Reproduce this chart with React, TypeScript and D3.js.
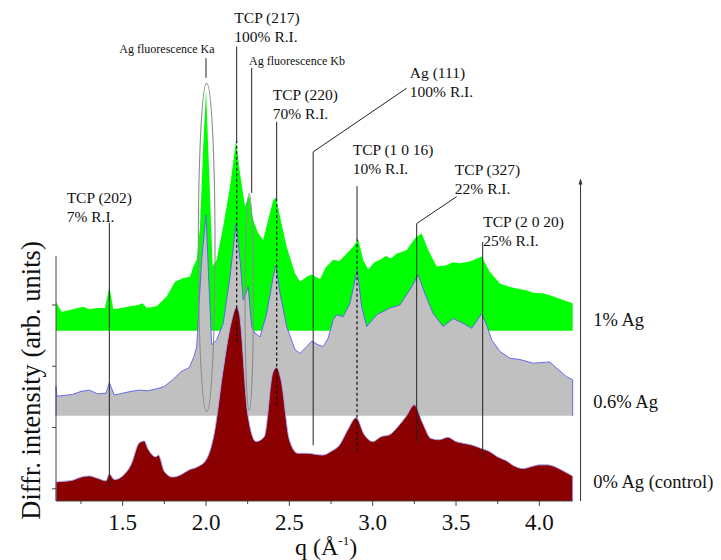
import { useEffect, useRef } from "react";
import * as d3 from "d3";

// q (1/Å) vs diffracted intensity (arb. units, stacking offset included)
const ag1pct: [number, number][] = [
    [1.100, 3.05], [1.134, 2.89], [1.184, 2.92], [1.230, 2.95], [1.264, 2.97], [1.300, 2.93],
    [1.344, 2.95], [1.394, 2.95], [1.420, 3.30], [1.444, 2.93], [1.494, 2.95], [1.544, 2.98],
    [1.594, 3.00], [1.620, 3.03], [1.644, 2.95], [1.704, 2.98], [1.764, 3.14], [1.814, 3.38],
    [1.864, 3.44], [1.904, 3.46], [1.924, 3.63], [1.944, 3.74], [1.964, 4.28], [1.984, 5.64],
    [2.000, 6.51], [2.020, 5.10], [2.040, 3.63], [2.064, 3.74], [2.103, 4.28], [2.144, 4.93],
    [2.180, 5.69], [2.204, 5.15], [2.234, 4.61], [2.259, 4.80], [2.283, 4.39], [2.313, 4.17],
    [2.343, 4.06], [2.373, 4.39], [2.403, 4.71], [2.420, 4.76], [2.444, 4.44], [2.484, 3.95],
    [2.534, 3.52], [2.564, 3.38], [2.604, 3.46], [2.634, 3.50], [2.684, 3.42], [2.720, 3.62],
    [2.763, 3.74], [2.800, 3.72], [2.823, 3.78], [2.883, 3.95], [2.913, 4.07], [2.943, 3.74],
    [2.973, 3.58], [3.010, 3.70], [3.044, 3.74], [3.080, 3.80], [3.110, 3.76], [3.144, 3.84],
    [3.170, 3.86], [3.204, 3.90], [3.254, 4.09], [3.294, 4.17], [3.333, 3.90], [3.384, 3.63],
    [3.444, 3.65], [3.480, 3.70], [3.523, 3.68], [3.583, 3.71], [3.654, 3.79], [3.703, 3.54],
    [3.764, 3.35], [3.820, 3.30], [3.864, 3.27], [3.920, 3.24], [3.963, 3.20], [4.020, 3.19],
    [4.063, 3.16], [4.143, 3.08], [4.200, 3.03],
];

const ag06pct: [number, number][] = [
    [1.100, 1.67], [1.105, 1.51], [1.200, 1.54], [1.250, 1.59], [1.300, 1.61], [1.350, 1.55],
    [1.400, 1.56], [1.420, 1.73], [1.450, 1.53], [1.500, 1.56], [1.550, 1.59], [1.600, 1.61],
    [1.650, 1.60], [1.700, 1.63], [1.750, 1.67], [1.800, 1.78], [1.850, 1.91], [1.900, 1.98],
    [1.928, 2.16], [1.944, 2.32], [1.974, 3.74], [2.000, 4.47], [2.020, 3.20], [2.034, 2.35],
    [2.064, 2.43], [2.103, 2.70], [2.144, 3.46], [2.180, 4.33], [2.204, 3.74], [2.223, 3.08],
    [2.240, 3.20], [2.253, 3.30], [2.274, 2.65], [2.294, 2.54], [2.324, 2.48], [2.364, 2.86],
    [2.403, 3.46], [2.420, 3.65], [2.444, 3.19], [2.484, 2.65], [2.534, 2.27], [2.564, 2.21],
    [2.604, 2.32], [2.634, 2.41], [2.673, 2.35], [2.703, 2.32], [2.733, 2.46], [2.763, 2.76],
    [2.784, 2.84], [2.823, 2.81], [2.864, 3.03], [2.883, 3.27], [2.907, 3.57], [2.934, 2.97],
    [2.964, 2.65], [3.024, 2.84], [3.104, 2.95], [3.163, 3.00], [3.223, 3.25], [3.273, 3.49],
    [3.313, 3.19], [3.363, 2.86], [3.423, 2.65], [3.483, 2.78], [3.543, 2.70], [3.594, 2.62],
    [3.654, 2.86], [3.684, 2.67], [3.714, 2.43], [3.764, 2.24], [3.824, 2.13], [3.883, 2.11],
    [3.963, 2.05], [4.063, 2.07], [4.103, 1.97], [4.163, 1.83], [4.200, 1.78],
];

const control: [number, number][] = [
    [1.100, 0.11], [1.200, 0.14], [1.250, 0.19], [1.300, 0.21], [1.350, 0.17], [1.400, 0.13],
    [1.420, 0.24], [1.450, 0.15], [1.500, 0.21], [1.550, 0.39], [1.600, 0.75], [1.630, 0.78],
    [1.650, 0.66], [1.700, 0.52], [1.714, 0.55], [1.750, 0.28], [1.800, 0.19], [1.850, 0.23],
    [1.900, 0.31], [1.950, 0.36], [2.000, 0.47], [2.050, 0.91], [2.100, 1.89], [2.150, 2.70],
    [2.184, 2.97], [2.200, 2.86], [2.250, 1.23], [2.300, 0.77], [2.350, 0.85], [2.400, 1.89],
    [2.424, 1.98], [2.450, 1.78], [2.500, 0.80], [2.550, 0.58], [2.600, 0.58], [2.700, 0.55],
    [2.750, 0.61], [2.800, 0.71], [2.850, 0.96], [2.900, 1.16], [2.950, 0.88], [3.000, 0.77],
    [3.050, 0.85], [3.100, 0.88], [3.150, 1.01], [3.200, 1.18], [3.250, 1.37], [3.300, 1.07],
    [3.350, 0.82], [3.400, 0.80], [3.450, 0.84], [3.500, 0.77], [3.550, 0.74], [3.600, 0.71],
    [3.650, 0.66], [3.700, 0.61], [3.750, 0.52], [3.800, 0.46], [3.850, 0.37], [3.900, 0.33],
    [3.950, 0.36], [4.000, 0.39], [4.050, 0.39], [4.100, 0.35], [4.150, 0.28], [4.200, 0.20],
];

const seriesNames = ["1% Ag", "0.6% Ag", "0% Ag (control)"];
const seriesBase = [2.58, 1.19, -0.2];
const seriesLabelV = [2.65, 1.32, 0.01];

const majorTicks = [1.5, 2.0, 2.5, 3.0, 3.5, 4.0];
const minorTicks = [1.25, 1.75, 2.25, 2.75, 3.25, 3.75];
const yTicks = [0, 1, 2, 3];

// text lines, label anchor (q, v), leader polyline, dashed part
const annotations = [
    { lines: ["TCP (202)", "7% R.I."], q: 1.164, v: 4.665, small: false, solid: [[1.42, 4.34], [1.42, 0.03]], dashed: [] },
    { lines: ["Ag fluorescence Ka"], q: 1.48, v: 7.11, small: true, solid: [[2.0, 7.03], [2.0, 6.71]], dashed: [] },
    { lines: ["TCP (217)", "100% R.I."], q: 2.17, v: 7.6, small: false, solid: [[2.184, 7.22], [2.184, 5.69]], dashed: [[2.184, 5.69], [2.184, 2.35]] },
    { lines: ["Ag fluorescence Kb"], q: 2.258, v: 6.92, small: true, solid: [[2.274, 6.87], [2.274, 4.83]], dashed: [] },
    { lines: ["TCP (220)", "70% R.I."], q: 2.40, v: 6.35, small: false, solid: [[2.424, 5.99], [2.424, 4.74]], dashed: [[2.424, 4.74], [2.424, 1.37]] },
    { lines: ["Ag (111)", "100% R.I."], q: 3.223, v: 6.70, small: false, solid: [[3.204, 6.54], [2.643, 5.50], [2.643, 0.71]], dashed: [] },
    { lines: ["TCP (1 0 16)", "10% R.I."], q: 2.88, v: 5.45, small: false, solid: [[2.906, 4.94], [2.906, 4.08]], dashed: [[2.906, 4.08], [2.906, 0.61]] },
    { lines: ["TCP (327)", "22% R.I."], q: 3.493, v: 5.12, small: false, solid: [[3.504, 4.77], [3.264, 4.33], [3.264, 0.76]], dashed: [] },
    { lines: ["TCP (2 0 20)", "25% R.I."], q: 3.663, v: 4.28, small: false, solid: [[3.66, 4.03], [3.66, 0.48]], dashed: [] },
];

// Ag fluorescence ellipses: centre q, v and half sizes
const fluorescence = [
    { q: 2.004, v: 3.94, dq: 0.05, dv: 2.68 },
    { q: 2.259, v: 3.05, dq: 0.025, dv: 1.77 },
];

export default function App() {
    const ref = useRef<SVGSVGElement>(null);

    useEffect(() => {
        const svg = d3.select(ref.current);
        svg.selectAll("*").remove();

        const x = d3.scaleLinear().domain([1.1, 4.2]).range([56, 572.7]);
        const y = d3.scaleLinear().domain([-0.2, 3.8]).range([501, 256]);

        const serif = "'Liberation Serif', 'Times New Roman', serif";
        const series = [ag1pct, ag06pct, control];
        const fills = ["#00ff00", "#c0c0c0", "#8b0000"];
        const strokes = ["none", "#5b5bf0", "#a8a8ff"];

        series.forEach((data, i) => {
            const base = seriesBase[i];
            const curve = i === 2 ? d3.curveMonotoneX : d3.curveLinear;
            const area = d3.area<[number, number]>()
                .x(d => x(d[0]))
                .y0(y(base))
                .y1(d => y(d[1]))
                .curve(curve);
            svg.append("path").attr("d", area(data)).attr("fill", fills[i]);

            if (strokes[i] !== "none") {
                const outline: [number, number][] = [[data[0][0], base], ...data, [data[data.length - 1][0], base]];
                const line = d3.line<[number, number]>()
                    .x(d => x(d[0]))
                    .y(d => y(d[1]))
                    .curve(curve);
                svg.append("path").attr("d", line(outline))
                    .attr("fill", "none").attr("stroke", strokes[i]).attr("stroke-width", 0.9);
            }
        });

        // fluorescence ellipses
        fluorescence.forEach(f => {
            svg.append("ellipse")
                .attr("cx", x(f.q)).attr("cy", y(f.v))
                .attr("rx", x(f.q + f.dq) - x(f.q))
                .attr("ry", y(f.v) - y(f.v + f.dv))
                .attr("fill", "none").attr("stroke", "#8c8c8c").attr("stroke-width", 1.1);
        });

        // annotations
        const leader = d3.line<number[]>().x(d => x(d[0])).y(d => y(d[1]));
        annotations.forEach(a => {
            svg.append("path").attr("d", leader(a.solid))
                .attr("fill", "none").attr("stroke", "#222").attr("stroke-width", 1);
            if (a.dashed.length) {
                svg.append("path").attr("d", leader(a.dashed))
                    .attr("fill", "none").attr("stroke", "#111").attr("stroke-width", 1.2)
                    .attr("stroke-dasharray", "3,2.5");
            }
            const t = svg.append("text")
                .attr("x", x(a.q)).attr("y", y(a.v))
                .style("font-family", serif)
                .style("font-size", a.small ? "12px" : "15.5px")
                .attr("fill", "#111");
            a.lines.forEach((l, k) => {
                t.append("tspan").attr("x", x(a.q)).attr("dy", k === 0 ? 0 : 19).text(l);
            });
        });

        // x axis
        const ax = svg.append("g");
        ax.append("line").attr("x1", x(1.1)).attr("x2", x(4.2)).attr("y1", 501).attr("y2", 501)
            .attr("stroke", "#444").attr("stroke-width", 1);
        majorTicks.forEach(t => {
            ax.append("line").attr("x1", x(t)).attr("x2", x(t)).attr("y1", 501).attr("y2", 506)
                .attr("stroke", "#444");
            ax.append("text").attr("x", x(t)).attr("y", 530).attr("text-anchor", "middle")
                .style("font-family", serif).style("font-size", "23px").attr("fill", "#111")
                .text(d3.format(".1f")(t));
        });
        minorTicks.forEach(t => {
            ax.append("line").attr("x1", x(t)).attr("x2", x(t)).attr("y1", 501).attr("y2", 504)
                .attr("stroke", "#444");
        });
        const xt = ax.append("text").attr("x", 295).attr("y", 555)
            .style("font-family", serif).style("font-size", "24px").attr("fill", "#111");
        xt.append("tspan").text("q (Å");
        xt.append("tspan").attr("dy", -10).style("font-size", "13px").text("-1");
        xt.append("tspan").attr("dy", 10).text(")");

        // y axis
        const ay = svg.append("g");
        ay.append("line").attr("x1", x(1.1)).attr("x2", x(1.1)).attr("y1", y(3.8)).attr("y2", 501)
            .attr("stroke", "#444");
        yTicks.forEach(t => {
            ay.append("line").attr("x1", x(1.1) - 4).attr("x2", x(1.1)).attr("y1", y(t)).attr("y2", y(t))
                .attr("stroke", "#444");
        });
        ay.append("text")
            .attr("transform", `translate(40,${(y(3.8) + 501) / 2 + 2}) rotate(-90)`)
            .attr("text-anchor", "middle")
            .style("font-family", serif).style("font-size", "26.5px").attr("fill", "#111")
            .text("Diffr. intensity (arb. units)");

        // right arrow and sample labels
        const arrowX = x(4.247);
        svg.append("line").attr("x1", arrowX).attr("x2", arrowX).attr("y1", 501).attr("y2", y(5.05))
            .attr("stroke", "#333").attr("stroke-width", 1);
        svg.append("path")
            .attr("d", `M${arrowX - 2},${y(5.05) + 5} L${arrowX},${y(5.05) - 1} L${arrowX + 2},${y(5.05) + 5} Z`)
            .attr("fill", "#333");
        seriesNames.forEach((n, i) => {
            svg.append("text").attr("x", x(4.323)).attr("y", y(seriesLabelV[i]))
                .style("font-family", serif).style("font-size", "18.5px").attr("fill", "#111")
                .text(n);
        });

        return () => {
            d3.select(ref.current).selectAll("*").remove();
        };
    }, [ref]);

    return (
        <svg ref={ref} width={721} height={560}
            style={{ position: "absolute", left: 0, top: 0, background: "white" }} />
    );
}
